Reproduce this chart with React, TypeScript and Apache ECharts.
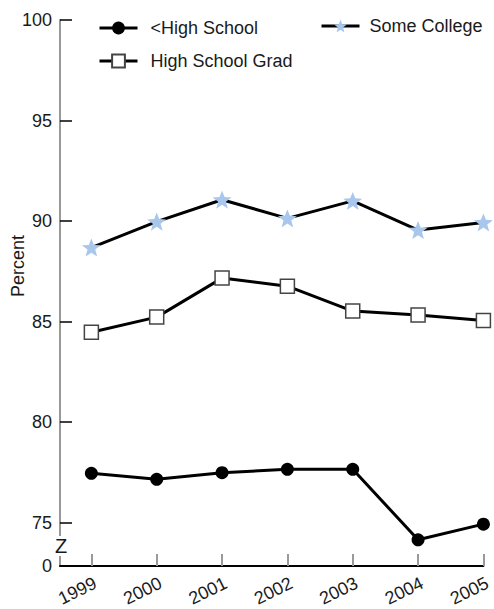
import React, { useEffect, useRef } from "react";
import * as echarts from "echarts";

const years = ["1999", "2000", "2001", "2002", "2003", "2004", "2005"];
const lessHighSchool = [77.45, 77.15, 77.48, 77.65, 77.65, 74.14, 74.92];
const highSchoolGrad = [84.47, 85.22, 87.16, 86.76, 85.52, 85.33, 85.05];
const someCollege = [88.68, 89.97, 91.06, 90.13, 91.0, 89.55, 89.93];
const yTickValues = [75, 80, 85, 90, 95, 100];
const yBreakValue = 72.84;
const yBreakLabel = "0";
const seriesNames = ["<High School", "High School Grad", "Some College"];

const FONT = "'Liberation Sans', Arial, Helvetica, sans-serif";
const STAR =
  "path://M50,0 L63,33 L99,35 L70,57 L80,93 L50,73 L20,93 L30,57 L1,35 L37,33 Z";

export default function App() {
  const ref = useRef<HTMLDivElement>(null);
  useEffect(() => {
    if (!ref.current) return;
    const chart = echarts.init(ref.current, undefined, { renderer: "svg" });
    const xs = years.map(Number);
    const toData = (vals: number[]) => xs.map((x, i) => [x, vals[i]]);
    const lineStyle = { color: "#000", width: 3 };
    const legendLine = { color: "#000", width: 3 };
    chart.setOption({
      animation: false,
      backgroundColor: "#fff",
      textStyle: { fontFamily: FONT },
      grid: { left: 60, right: 2, top: 20, bottom: 42, containLabel: false },
      legend: [
        {
          data: [seriesNames[0], seriesNames[1]],
          orient: "vertical",
          left: 93,
          top: 14,
          itemWidth: 38,
          itemHeight: 16,
          itemGap: 15,
          lineStyle: legendLine,
          textStyle: { fontSize: 18, color: "#1a1a1a", fontFamily: FONT, padding: [0, 0, 0, 8] },
        },
        {
          data: [seriesNames[2]],
          orient: "vertical",
          left: 315,
          top: 12,
          itemWidth: 38,
          itemHeight: 16,
          lineStyle: legendLine,
          textStyle: { fontSize: 18, color: "#1a1a1a", fontFamily: FONT, padding: [0, 0, 0, 5] },
        },
      ],
      xAxis: {
        type: "value",
        min: 1998.52,
        max: 2005,
        splitLine: { show: false },
        axisLine: { show: true, onZero: false, lineStyle: { color: "#000", width: 2 } },
        axisTick: {
          show: true,
          inside: true,
          length: 12,
          customValues: xs,
          lineStyle: { color: "#999", width: 2 },
        },
        axisLabel: {
          customValues: xs,
          formatter: (v: number) => String(Math.round(v)),
          rotate: 26,
          align: "right",
          verticalAlign: "top",
          margin: 8,
          fontSize: 18,
          color: "#1a1a1a",
          fontFamily: FONT,
          showMinLabel: true,
          showMaxLabel: true,
        },
      },
      yAxis: {
        type: "value",
        min: yBreakValue,
        max: 100,
        splitLine: { show: false },
        axisLine: { show: true, lineStyle: { color: "#999", width: 2 } },
        axisTick: {
          show: true,
          inside: true,
          length: 12,
          customValues: yTickValues,
          lineStyle: { color: "#000", width: 1.5 },
        },
        axisLabel: {
          customValues: [yBreakValue, ...yTickValues],
          formatter: (v: number) => (v < 74 ? yBreakLabel : String(Math.round(v))),
          margin: 8,
          fontSize: 18,
          color: "#1a1a1a",
          fontFamily: FONT,
          showMinLabel: true,
          showMaxLabel: true,
        },
      },
      graphic: [
        {
          type: "text",
          x: 18,
          y: 266,
          rotation: Math.PI / 2,
          style: {
            text: "Percent",
            fontSize: 18,
            fontFamily: FONT,
            fill: "#1a1a1a",
            align: "center",
            verticalAlign: "middle",
          },
        },
        {
          type: "text",
          x: 61,
          y: 546,
          z: 100,
          style: {
            text: "Z",
            fontSize: 20,
            fontFamily: FONT,
            fill: "#1a1a1a",
            align: "center",
            verticalAlign: "middle",
            backgroundColor: "#fff",
          },
        },
      ],
      series: [
        {
          name: seriesNames[0],
          type: "line",
          data: toData(lessHighSchool),
          symbol: "circle",
          symbolSize: 13,
          itemStyle: { color: "#000" },
          lineStyle,
        },
        {
          name: seriesNames[1],
          type: "line",
          data: toData(highSchoolGrad),
          symbol: "rect",
          symbolSize: 14,
          itemStyle: { color: "#fff", borderColor: "#444", borderWidth: 1.5 },
          lineStyle,
        },
        {
          name: seriesNames[2],
          type: "line",
          data: toData(someCollege),
          symbol: STAR,
          symbolSize: 19,
          symbolKeepAspect: true,
          itemStyle: { color: "#a9c7ec", borderWidth: 0 },
          lineStyle,
        },
      ],
    });
    return () => chart.dispose();
  }, []);
  return (
    <div
      ref={ref}
      style={{ position: "absolute", left: 0, top: 0, width: 494, height: 609 }}
    />
  );
}
